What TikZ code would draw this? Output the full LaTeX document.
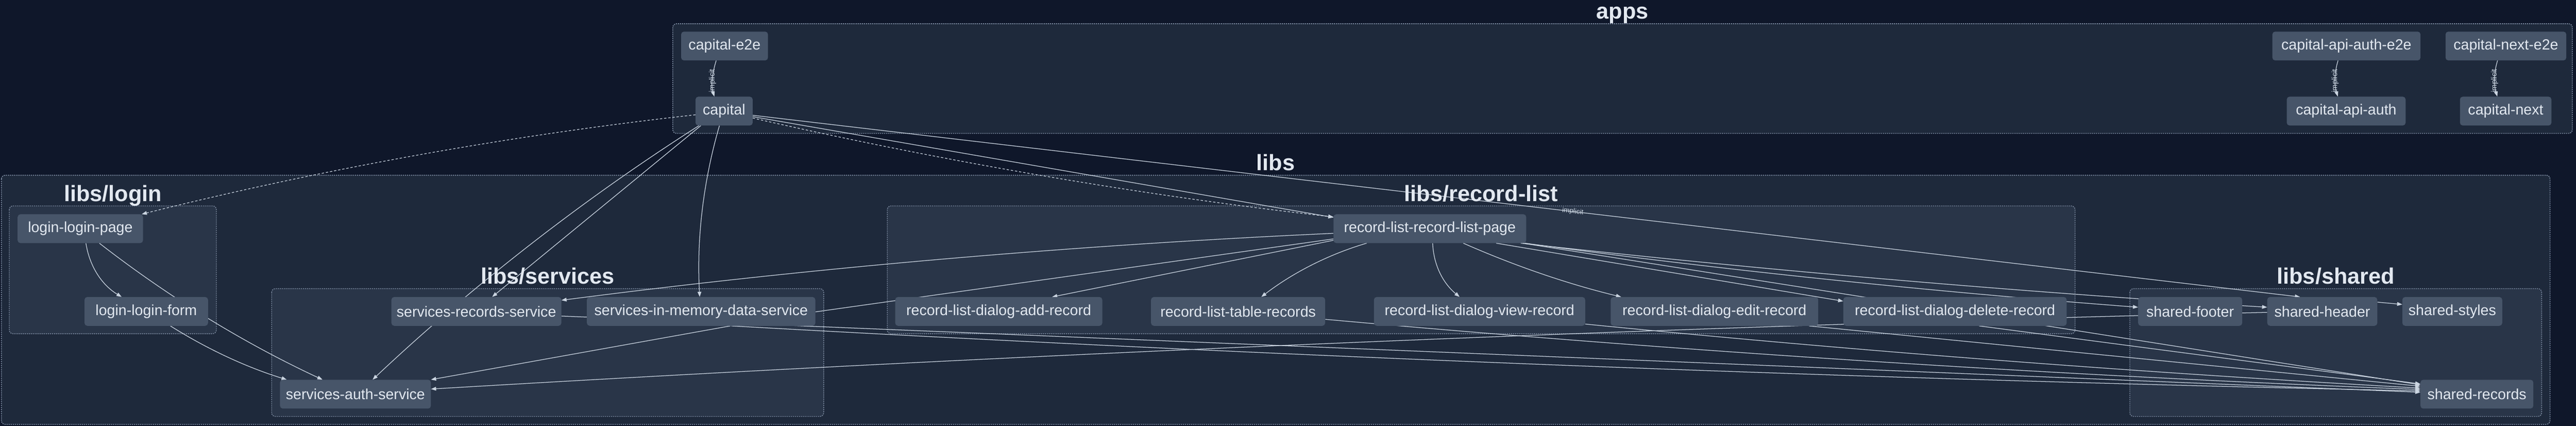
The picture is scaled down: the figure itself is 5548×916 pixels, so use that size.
\documentclass[tikz,border=0pt]{standalone}
\usepackage{fontspec}
\setmainfont{Liberation Sans}
\usetikzlibrary{arrows.meta}
\definecolor{bgc}{HTML}{0F172A}
\definecolor{grpA}{HTML}{1E293B}
\definecolor{grpB}{HTML}{293548}
\definecolor{nodec}{HTML}{475569}
\definecolor{txtc}{HTML}{E2E8F0}
\definecolor{edgec}{HTML}{CBD5E1}
\definecolor{brdc}{HTML}{7C8AA0}
\pgfdeclarelayer{bglayer}
\pgfdeclarelayer{edgelayer}
\pgfsetlayers{bglayer,edgelayer,main}
\begin{document}
\begin{tikzpicture}[x=1pt,y=-1pt,
  proj/.style={fill=nodec, rounded corners=6pt, text=txtc, font=\fontsize{31.7}{38}\selectfont, minimum height=62pt, inner sep=0pt, anchor=center},
  outergrp/.style={fill=grpA, draw=brdc, line width=1.8pt, dash pattern=on 2.5pt off 2pt, rounded corners=8pt},
  innergrp/.style={fill=grpB, draw=brdc, line width=1.6pt, dash pattern=on 2.5pt off 2pt, rounded corners=8pt},
  grptitle/.style={text=txtc, font=\fontsize{48}{58}\selectfont\bfseries, anchor=base, inner sep=0pt},
  dep/.style={draw=edgec, line width=1.4pt, -{Triangle[length=11pt,width=8pt]}},
  lazy/.style={dep, dash pattern=on 5pt off 4pt},
  undirected/.style={draw=edgec, line width=1.4pt},
  implabel/.style={text=edgec, font=\fontsize{15}{18}\selectfont, inner sep=1pt, sloped},
  vimplabel/.style={text=edgec, font=\fontsize{16.5}{19}\selectfont, inner sep=1pt, rotate=90, xshift=-5pt}
]
\useasboundingbox (0,0) rectangle (5548,916);
\begin{pgfonlayer}{bglayer}
  \fill[bgc] (0,0) rectangle (5548,916);
  \path[outergrp] (1449,51) rectangle (5540,287);
  \path[outergrp] (3,377) rectangle (5492,913);
  \path[innergrp] (20,443) rectangle (466,718);
  \path[innergrp] (585,621) rectangle (1774,896);
  \path[innergrp] (1911,443) rectangle (4469,718);
  \path[innergrp] (4587,621) rectangle (5474,896);
\end{pgfonlayer}

\node[grptitle] (tapps) at (3494.5,41) {apps};
\node[grptitle] (tlibs) at (2747.5,367) {libs};
\node[grptitle] (tlogin) at (243,433) {libs/login};
\node[grptitle] (trecl) at (3190,433) {libs/record-list};
\node[grptitle] (tserv) at (1179.5,611) {libs/services};
\node[grptitle] (tshar) at (5030.5,611) {libs/shared};

% apps
\node[proj, minimum width=187pt] (ce2e) at (1560.5,99) {capital-e2e};
\node[proj, minimum width=123pt] (cap) at (1559.5,239) {capital};
\node[proj, minimum width=319pt] (caae2e) at (5053.5,99) {capital-api-auth-e2e};
\node[proj, minimum width=256pt] (caa) at (5053,239) {capital-api-auth};
\node[proj, minimum width=260pt] (cne2e) at (5397,99) {capital-next-e2e};
\node[proj, minimum width=197pt] (cn) at (5396.5,239) {capital-next};

% libs
\node[proj, minimum width=270pt] (llp) at (173,492) {login-login-page};
\node[proj, minimum width=266pt] (llf) at (315,670) {login-login-form};
\node[proj, minimum width=366pt] (rs) at (1026,670) {services-records-service};
\node[proj, minimum width=492pt] (im) at (1510,670) {services-in-memory-data-service};
\node[proj, minimum width=325pt] (as) at (765.5,848) {services-auth-service};
\node[proj, minimum width=415pt] (rlp) at (3079.5,492) {record-list-record-list-page};
\node[proj, minimum width=446pt] (ar) at (2151,670) {record-list-dialog-add-record};
\node[proj, minimum width=375pt] (tr) at (2666.5,670) {record-list-table-records};
\node[proj, minimum width=455pt] (vr) at (3186.5,670) {record-list-dialog-view-record};
\node[proj, minimum width=447pt] (er) at (3692.5,670) {record-list-dialog-edit-record};
\node[proj, minimum width=481pt] (dr) at (4210.5,670) {record-list-dialog-delete-record};
\node[proj, minimum width=224pt] (sf) at (4717,670) {shared-footer};
\node[proj, minimum width=237pt] (sh) at (5001.5,670) {shared-header};
\node[proj, minimum width=215pt] (sst) at (5281.5,670) {shared-styles};
\node[proj, minimum width=243pt] (shr) at (5334.5,848) {shared-records};

\begin{pgfonlayer}{edgelayer}
  % apps implicit
  \draw[dep] ([xshift=-18pt]ce2e.south) .. controls +(-8,26) and +(-8,-26) .. node[vimplabel]{implicit} ([xshift=-21pt]cap.north);
  \draw[dep] ([xshift=-18pt]caae2e.south) .. controls +(-8,26) and +(-8,-26) .. node[vimplabel]{implicit} ([xshift=-18pt]caa.north);
  \draw[dep] ([xshift=-18pt]cne2e.south) .. controls +(-8,26) and +(-8,-26) .. node[vimplabel]{implicit} ([xshift=-18pt]cn.north);
  % capital
  \draw[lazy] ([yshift=-8pt]cap.west) .. controls +(-399,44) and +(389,-97) .. ([xshift=-3pt]llp.north east);
  \draw[dep] ([xshift=-50pt]cap.south) -- ([xshift=34pt]rs.north);
  \draw[dep] ([xshift=-54pt]cap.south) .. controls +(-249,158) and +(215,-202) .. ([xshift=37pt]as.north);
  \draw[dep] ([xshift=-10pt]cap.south) .. controls +(-35,120) and +(-7,-124) .. ([xshift=-3pt]im.north);
  \draw[dep] ([yshift=-12pt]cap.east) -- ([yshift=-7pt]rlp.north west);
  \draw[lazy] ([yshift=-15pt]cap.east) .. controls +(409,93) and +(-417,-47) .. ([yshift=-6pt]rlp.north west);
  \draw[dep] ([yshift=-9pt]cap.east) -- node[implabel,pos=0.53]{implicit} ([xshift=-48pt]sh.north);
  % record-list-page
  \draw[dep] ([yshift=-10pt]rlp.west) .. controls +(-551,25) and +(547,-71) .. ([yshift=24pt]rs.east);
  \draw[undirected] ([yshift=-22pt]rlp.west) -- ([yshift=-1pt]im.east);
  \draw[dep] ([yshift=-25pt]rlp.west) -- ([xshift=115pt]ar.north);
  \draw[dep] ([xshift=-136pt]rlp.south) .. controls +(-82,24) and +(68,-52) .. ([xshift=50pt]tr.north);
  \draw[dep] ([xshift=6pt]rlp.south) .. controls +(2,47) and +(-36,-30) .. ([xshift=-43pt]vr.north);
  \draw[dep] ([xshift=72pt]rlp.south) .. controls +(109,48) and +(-116,-28) .. ([xshift=-201pt]er.north);
  \draw[dep] ([xshift=-65pt]rlp.south east) -- ([yshift=22pt]dr.west);
  \draw[dep] ([xshift=-3pt]rlp.south east) .. controls +(435,59) and +(-437,-33) .. ([yshift=9pt]sf.west);
  \draw[dep] ([xshift=-12pt]rlp.south east) .. controls +(530,59) and +(-532,-33) .. ([yshift=9pt]sh.west);
  \draw[dep] ([xshift=-8pt]rlp.south east) -- ([yshift=20pt]shr.west);
  % shared
  \draw[dep] ([yshift=20pt]sh.east) -- ([yshift=15pt]sst.west);
  \draw[dep] ([yshift=-2pt]sh.west) .. controls +(-1306,31) and +(1304,-77) .. ([yshift=11pt]as.east);
  % services
  \draw[dep] ([xshift=63pt]im.south) -- (as.north east);
  \draw[dep] ([xshift=65pt]im.south) .. controls +(1200,67) and +(-1200,-25) .. ([yshift=7pt]shr.west);
  \draw[dep] ([yshift=-10pt]rs.east) -- ([yshift=4pt]shr.west);
  % record-list to shared-records
  \draw[dep] ([yshift=-17pt]tr.east) .. controls +(778,70) and +(-778,-30) .. ([yshift=10pt]shr.west);
  \draw[dep] ([yshift=4pt]vr.south east) .. controls +(594,59) and +(-594,-33) .. ([yshift=13pt]shr.west);
  \draw[dep] ([xshift=-20pt]er.south east) -- ([yshift=17pt]shr.west);
  \draw[dep] ([xshift=52pt]dr.south) -- ([yshift=22pt]shr.west);
  % login
  \draw[dep] ([xshift=12pt]llp.south) .. controls +(8,50) and +(-43,-26) .. ([xshift=-53pt]llf.north);
  \draw[dep] ([xshift=41pt]llp.south) .. controls +(148,115) and +(-170,-79) .. ([xshift=-71pt]as.north);
  \draw[dep] ([xshift=52pt]llf.south) .. controls +(78,49) and +(-88,-27) .. ([xshift=-148pt]as.north);
\end{pgfonlayer}
\end{tikzpicture}
\end{document}
